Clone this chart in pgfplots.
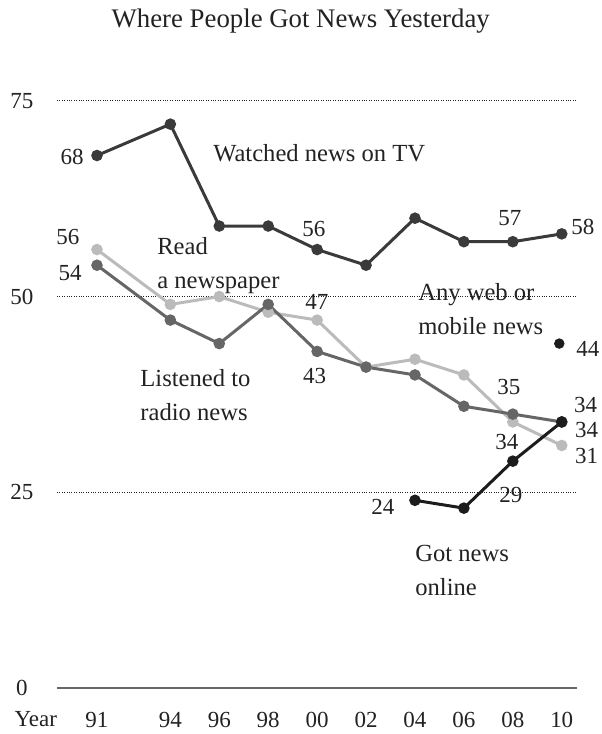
\documentclass[border=0pt]{standalone}
\usepackage{pgfplots}
\pgfplotsset{compat=1.18}
\usepackage{fontspec}
\setmainfont{Liberation Serif}
\usetikzlibrary{calc}
\definecolor{tvc}{HTML}{3A3A3A}
\definecolor{radc}{HTML}{666666}
\definecolor{papc}{HTML}{BBBBBB}
\definecolor{onlc}{HTML}{1C1C1C}
\definecolor{txtc}{HTML}{222222}
\tikzset{
  lbl/.style={font=\fontsize{11.5}{13}\selectfont, text=txtc, anchor=center, inner sep=0pt},
  ann/.style={font=\fontsize{12.3}{17}\selectfont, text=txtc, anchor=west, align=left, inner sep=0pt},
}
\begin{document}
\begin{tikzpicture}
\begin{axis}[name=ax, at={(0,0)}, anchor=south west,
  scale only axis, width=260pt, height=294pt,
  xmin=1989.365, xmax=2010.613, ymin=0, ymax=75,
  clip=false, axis line style={draw=none}, major tick length=0pt,
  /pgf/number format/assume math mode=true,
  xtick={1991,1994,1996,1998,2000,2002,2004,2006,2008,2010},
  xticklabels={91,94,96,98,00,02,04,06,08,10},
  ytick={25,50,75},
  yticklabels={25,50,75},
  extra y ticks={0},
  extra y tick labels={0},
  extra y tick style={grid style={solid, line width=0.9pt, color=radc}},
  ymajorgrids,
  grid style={line width=0.5pt, color=txtc, dash pattern=on 0.45pt off 0.75pt},
  tick label style={font=\fontsize{11.5}{13}\selectfont, text=txtc},
  yticklabel style={anchor=center, xshift=-17.5pt},
  xticklabel style={anchor=center, yshift=-15.6pt},
]
\addplot[color=papc, line width=1.5pt, mark=*, mark size=2.1pt] coordinates {
 (1991,56)(1994,49)(1996,50)(1998,48)(2000,47)(2002,41)(2004,42)(2006,40)(2008,34)(2010,31)};
\addplot[color=radc, line width=1.5pt, mark=*, mark size=2.1pt] coordinates {
 (1991,54)(1994,47)(1996,44)(1998,49)(2000,43)(2002,41)(2004,40)(2006,36)(2008,35)(2010,34)};
\addplot[color=tvc, line width=1.5pt, mark=*, mark size=2.1pt] coordinates {
 (1991,68)(1994,72)(1996,59)(1998,59)(2000,56)(2002,54)(2004,60)(2006,57)(2008,57)(2010,58)};
\addplot[color=onlc, line width=1.5pt, mark=*, mark size=2.1pt] coordinates {
 (2004,24)(2006,23)(2008,29)(2010,34)};
\addplot[color=onlc, only marks, mark=*, mark size=2.4pt] coordinates {(2009.9,44)};
% value labels
\node[lbl] at (axis cs:1989.98,67.8) {68};
\node[lbl] at (axis cs:1989.81,57.6) {56};
\node[lbl] at (axis cs:1989.90,53.0) {54};
\node[lbl] at (axis cs:1999.87,58.6) {56};
\node[lbl] at (axis cs:2007.88,60.0) {57};
\node[lbl] at (axis cs:2010.86,58.9) {58};
\node[lbl] at (axis cs:2011.07,43.3) {44};
\node[lbl] at (axis cs:1999.99,49.3) {47};
\node[lbl] at (axis cs:1999.90,39.8) {43};
\node[lbl] at (axis cs:2007.84,38.5) {35};
\node[lbl] at (axis cs:2007.76,31.5) {34};
\node[lbl] at (axis cs:2010.98,36.1) {34};
\node[lbl] at (axis cs:2011.02,33.0) {34};
\node[lbl] at (axis cs:2011.02,29.6) {31};
\node[lbl] at (axis cs:2002.69,23.2) {24};
\node[lbl] at (axis cs:2007.92,24.7) {29};
% annotations
\node[ann] at (axis cs:1995.74,68.3) {Watched news on TV};
\node[ann] at (axis cs:1993.45,53.9) {Read\\a newspaper};
\node[ann] at (axis cs:1992.76,37.4) {Listened to\\radio news};
\node[ann] at (axis cs:2004.12,48.4) {Any web or\\mobile news};
\node[ann] at (axis cs:2004.0,15.0) {Got news\\online};
\node[lbl] at (axis cs:1988.5,0) [yshift=-15.6pt] {Year};
\node[font=\fontsize{13.4}{15}\selectfont, text=txtc, anchor=center] at (rel axis cs:0.469,1) [yshift=39.8pt] {Where People Got News Yesterday};
\end{axis}
\path[use as bounding box] ($(ax.south west)+(-28.5pt,-22.65pt)$) rectangle ($(ax.north east)+(12.5pt,50.35pt)$);
\end{tikzpicture}
\end{document}
